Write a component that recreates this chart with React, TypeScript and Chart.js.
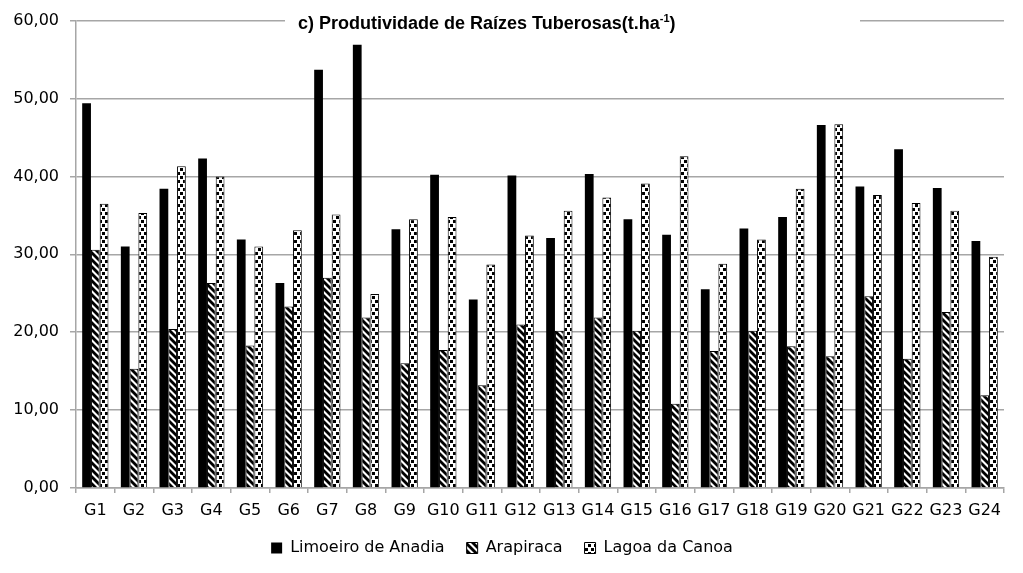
import React, { useEffect, useRef } from 'react';
import { Chart, registerables } from 'chart.js';

Chart.register(...registerables);

const categories = ['G1', 'G2', 'G3', 'G4', 'G5', 'G6', 'G7', 'G8', 'G9', 'G10', 'G11', 'G12', 'G13', 'G14', 'G15', 'G16', 'G17', 'G18', 'G19', 'G20', 'G21', 'G22', 'G23', 'G24'];
const seriesNames = ['Limoeiro de Anadia', 'Arapiraca', 'Lagoa da Canoa'];
const limoeiro = [49.4, 31.0, 38.4, 42.3, 31.9, 26.3, 53.7, 56.9, 33.2, 40.2, 24.2, 40.1, 32.1, 40.3, 34.5, 32.5, 25.5, 33.3, 34.8, 46.6, 38.7, 43.5, 38.5, 31.7];
const arapiraca = [30.6, 15.3, 20.4, 26.3, 18.3, 23.3, 27.0, 21.9, 16.0, 17.7, 13.2, 21.0, 20.2, 21.9, 20.2, 10.8, 17.6, 20.2, 18.2, 16.9, 24.6, 16.6, 22.6, 11.9];
const lagoa = [36.5, 35.3, 41.3, 40.0, 31.0, 33.1, 35.1, 24.9, 34.5, 34.8, 28.7, 32.4, 35.6, 37.3, 39.1, 42.6, 28.8, 31.9, 38.4, 46.7, 37.6, 36.6, 35.6, 29.7];
const yMin = 0;
const yMax = 60;
const yStep = 10;
const titleMain = 'c) Produtividade de Raízes Tuberosas(t.ha';
const titleSup = '-1';
const titleEnd = ')';

function makeHatch(): CanvasPattern | string {
  const c = document.createElement('canvas');
  c.width = 7;
  c.height = 7;
  const g = c.getContext('2d');
  if (!g) return '#777';
  g.fillStyle = '#fff';
  g.fillRect(0, 0, 7, 7);
  g.strokeStyle = '#000';
  g.lineWidth = 2.8;
  for (const k of [-7, 0, 7]) {
    g.beginPath();
    g.moveTo(k - 1, -1);
    g.lineTo(k + 8, 8);
    g.stroke();
  }
  return g.createPattern(c, 'repeat') || '#777';
}

function makeDots(): CanvasPattern | string {
  const c = document.createElement('canvas');
  c.width = 6;
  c.height = 8;
  const g = c.getContext('2d');
  if (!g) return '#ccc';
  g.fillStyle = '#fff';
  g.fillRect(0, 0, 6, 8);
  g.fillStyle = '#000';
  g.fillRect(0, 0, 3, 3);
  g.fillRect(3, 4, 3, 3);
  return g.createPattern(c, 'repeat') || '#ccc';
}

const titlePlugin = {
  id: 'boxTitle',
  beforeDatasetsDraw(chart: any) {
    const ctx = chart.ctx as CanvasRenderingContext2D;
    ctx.save();
    ctx.fillStyle = '#fff';
    ctx.fillRect(285, 8, 575, 26);
    ctx.fillStyle = '#000';
    ctx.textBaseline = 'alphabetic';
    ctx.textAlign = 'left';
    ctx.font = 'bold 18px "Liberation Sans", Arial, sans-serif';
    let x = 298;
    const base = 29;
    ctx.fillText(titleMain, x, base);
    x += ctx.measureText(titleMain).width;
    ctx.font = 'bold 11px "Liberation Sans", Arial, sans-serif';
    ctx.fillText(titleSup, x, base - 7);
    x += ctx.measureText(titleSup).width;
    ctx.font = 'bold 18px "Liberation Sans", Arial, sans-serif';
    ctx.fillText(titleEnd, x, base);
    ctx.restore();
  },
};

export default function App() {
  const ref = useRef<HTMLCanvasElement | null>(null);

  useEffect(() => {
    if (!ref.current) return;
    const hatch = makeHatch();
    const dots = makeDots();
    const gridColor = '#a6a6a6';
    const font = { family: '"DejaVu Sans", sans-serif', size: 16 };
    const chart = new Chart(ref.current, {
      type: 'bar',
      data: {
        labels: categories,
        datasets: [
          { label: seriesNames[0], data: limoeiro, backgroundColor: '#000', borderWidth: 0, categoryPercentage: 0.68, barPercentage: 1 },
          { label: seriesNames[1], data: arapiraca, backgroundColor: hatch as any, borderColor: '#000', borderWidth: 1, categoryPercentage: 0.68, barPercentage: 1 },
          { label: seriesNames[2], data: lagoa, backgroundColor: dots as any, borderColor: '#000', borderWidth: 1, categoryPercentage: 0.68, barPercentage: 1 },
        ],
      },
      options: {
        animation: false,
        responsive: true,
        maintainAspectRatio: false,
        layout: { padding: { left: 0, right: 19, top: 19, bottom: 7 } },
        plugins: {
          title: { display: false },
          tooltip: { enabled: false },
          legend: {
            position: 'bottom',
            labels: {
              boxWidth: 11,
              boxHeight: 11,
              padding: 22,
              color: '#000',
              font,
            },
          },
        },
        scales: {
          x: {
            grid: { drawOnChartArea: false, drawTicks: true, tickLength: 5, color: gridColor, lineWidth: 1.5, offset: true },
            border: { display: true, color: gridColor, width: 1.5 },
            ticks: { color: '#000', font, padding: 8, maxRotation: 0, autoSkip: false },
            afterFit: (s: any) => { s.height = 30; },
          },
          y: {
            min: yMin,
            max: yMax,
            grid: { color: gridColor, lineWidth: 1.5, tickLength: 6, drawTicks: true },
            border: { display: true, color: gridColor, width: 1.5 },
            ticks: {
              stepSize: yStep,
              color: '#000',
              font,
              padding: 11,
              callback: (v: any) => Number(v).toFixed(2).replace('.', ','),
            },
            afterFit: (s: any) => { s.width = 76; },
          },
        },
      },
      plugins: [titlePlugin],
    });
    return () => chart.destroy();
  }, []);

  return (
    <div style={{ position: 'absolute', left: 0, top: 0, width: '1023px', height: '573px', background: '#fff' }}>
      <canvas ref={ref} />
    </div>
  );
}
